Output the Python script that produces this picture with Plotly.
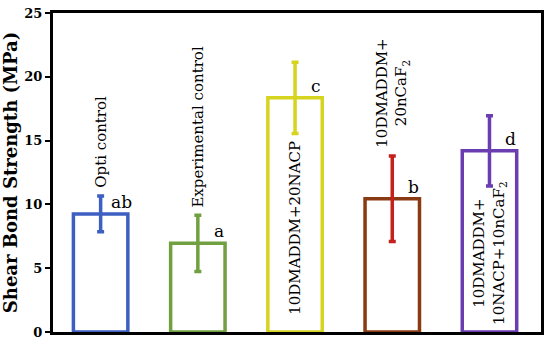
import plotly.graph_objects as go

categories = ["Opti control", "Experimental control", "10DMADDM+20NACP",
              "10DMADDM+20nCaF2", "10DMADDM+10NACP+10nCaF2"]
labels = ["Opti control", "Experimental control", "10DMADDM+20NACP",
          "10DMADDM+<br>20nCaF<sub>2</sub>", "10DMADDM+<br>10NACP+10nCaF<sub>2</sub>"]
means = [9.25, 6.95, 18.35, 10.45, 14.2]
sds = [1.4, 2.2, 2.8, 3.35, 2.75]
letters = ["ab", "a", "c", "b", "d"]
bar_colors = ["#3d5fc2", "#70a040", "#d6d41e", "#8a3a12", "#6a3db0"]
err_colors = ["#3d5fc2", "#70a040", "#d6d41e", "#c4201c", "#6a3db0"]
label_inside = [False, False, True, False, True]
yticks = [0, 5, 10, 15, 20, 25]

FONT = "DejaVu Serif"
x = list(range(len(categories)))

fig = go.Figure()
fig.add_trace(go.Bar(
    x=x, y=means, width=0.56,
    marker=dict(color="rgba(0,0,0,0)", line=dict(color=bar_colors, width=3.5)),
    showlegend=False, hoverinfo="skip"))
for i in x:
    fig.add_trace(go.Scatter(
        x=[i], y=[means[i]], mode="markers", marker=dict(size=0.1, color=err_colors[i]),
        error_y=dict(type="data", array=[sds[i]], color=err_colors[i], thickness=3.5, width=3.5),
        showlegend=False, hoverinfo="skip"))

annotations = []
for i in x:
    annotations.append(dict(x=i, y=means[i], xref="x", yref="y", text=letters[i],
                            showarrow=False, xanchor="center", yanchor="bottom",
                            xshift=21, yshift=0,
                            font=dict(family=FONT, size=17, color="black")))
    if label_inside[i]:
        yy = 1.2 if "<br>" not in labels[i] else 0.4
        annotations.append(dict(x=i, y=yy, xref="x", yref="y", text=labels[i],
                                textangle=-90, showarrow=False, xanchor="center",
                                yanchor="bottom", font=dict(family=FONT, size=15, color="black")))
    else:
        annotations.append(dict(x=i, y=means[i] + sds[i], xref="x", yref="y", text=labels[i],
                                textangle=-90, showarrow=False, xanchor="center",
                                yanchor="bottom", yshift=6,
                                font=dict(family=FONT, size=15, color="black")))

fig.update_layout(
    width=550, height=346,
    margin=dict(l=53, r=6, t=8, b=13),
    paper_bgcolor="white", plot_bgcolor="white",
    annotations=annotations,
    xaxis=dict(range=[-0.49, 4.53], showticklabels=False, ticks="", showgrid=False,
               zeroline=False, showline=True, linecolor="black", linewidth=3, mirror=True),
    yaxis=dict(range=[0, 25], tickvals=yticks, ticks="outside", ticklen=5, tickwidth=2,
               tickcolor="black", showgrid=False, zeroline=False,
               showline=True, linecolor="black", linewidth=3, mirror=True,
               tickfont=dict(family=FONT, size=13, color="black", weight="bold"),
               title=dict(text="<b>Shear Bond Strength (MPa)</b>", standoff=4,
                          font=dict(family=FONT, size=18, color="black"))),
)
fig.write_html("out.html", config={"displayModeBar": False},
               post_script="document.body.style.margin='0';")
